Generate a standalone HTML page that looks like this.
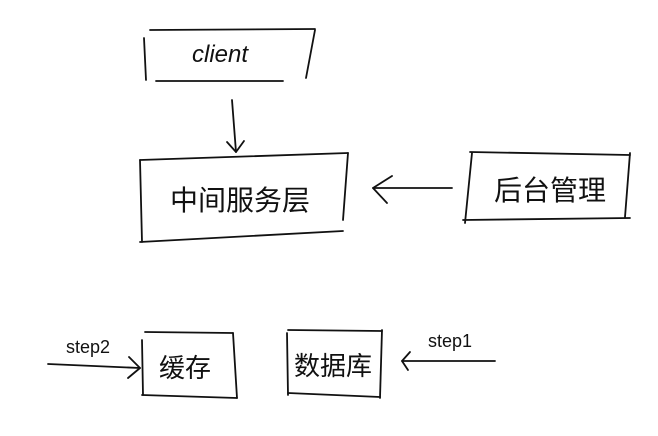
<!DOCTYPE html>
<html><head><meta charset="utf-8"><style>
html,body{margin:0;padding:0;background:#fff;width:658px;height:436px;overflow:hidden}
svg{display:block}
text{font-family:"Liberation Sans","Noto Sans CJK SC",sans-serif;fill:#111}
</style></head><body>
<svg width="658" height="436" viewBox="0 0 658 436" xmlns="http://www.w3.org/2000/svg">
<g stroke="#111" stroke-width="1.8" fill="none" stroke-linecap="round" stroke-linejoin="round">
<!-- client box -->
<path d="M150 30 L315 29"/><path d="M144 38 L146 80"/><path d="M315 30 L306 78"/><path d="M156 81 L283 81"/>
<!-- arrow down -->
<path d="M232 100 L236 152"/><path d="M227 142 L236 152 L244 141"/>
<!-- middle box -->
<path d="M140 160 L348 153"/><path d="M140 160 L142 242"/><path d="M348 153 L343 220"/><path d="M140 242 L343 231"/>
<!-- arrow left -->
<path d="M373 188 L452 188"/><path d="M392 176 L373 188 L387 203"/>
<!-- right box -->
<path d="M470 152 L630 155"/><path d="M472 153 L465 223"/><path d="M630 153 L625 217"/><path d="M463 220 L630 218"/>
<!-- step2 arrow -->
<path d="M48 364 L140 368"/><path d="M129 357 L140 368 L128 378"/>
<!-- cache box -->
<path d="M145 332 L233 333"/><path d="M142 340 L143 395"/><path d="M233 333 L237 398"/><path d="M142 395 L237 398"/>
<!-- db box -->
<path d="M288 330 L382 331"/><path d="M287 333 L288 395"/><path d="M382 330 L380 398"/><path d="M288 393 L380 397"/>
<!-- step1 arrow -->
<path d="M402 361 L495 361"/><path d="M410 352 L402 361 L408 370"/>
</g>
<text x="220" y="62" font-size="24" text-anchor="middle" font-style="italic">client</text>
<text x="240" y="210" font-size="28" text-anchor="middle">中间服务层</text>
<text x="550" y="200" font-size="28" text-anchor="middle">后台管理</text>
<text x="88" y="353" font-size="18" text-anchor="middle">step2</text>
<text x="450" y="347" font-size="18" text-anchor="middle">step1</text>
<text x="185" y="377" font-size="26" text-anchor="middle">缓存</text>
<text x="333" y="375" font-size="26" text-anchor="middle">数据库</text>
</svg>
</body></html>
